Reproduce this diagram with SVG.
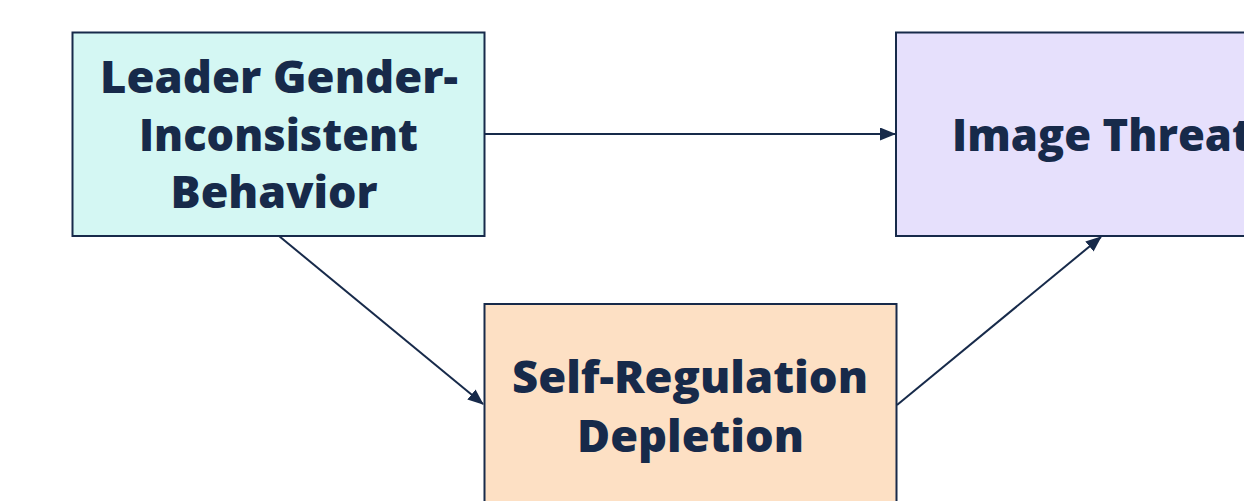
<svg xmlns="http://www.w3.org/2000/svg" width="1244" height="501" viewBox="0 0 1244 501">
<defs>
<marker id="ah" markerWidth="16" markerHeight="13" refX="15" refY="6.5" orient="auto" markerUnits="userSpaceOnUse">
<path d="M0,0 L16,6.5 L0,13 Z" fill="#172a4a"/>
</marker>
</defs>
<style>
.box{stroke:#172a4a;stroke-width:2}
.lbl{font-family:"Open Sans","Noto Sans",sans-serif;font-weight:800;font-size:45px;fill:#172a4a;text-anchor:middle}
.edge{stroke:#172a4a;stroke-width:2;fill:none;marker-end:url(#ah)}
</style>
<rect width="1244" height="501" fill="#ffffff"/>
<g id="connectors">
<line class="edge" x1="485" y1="134" x2="895" y2="134"/>
<line class="edge" x1="279" y1="236" x2="483" y2="404"/>
<line class="edge" x1="897" y1="405" x2="1101" y2="237"/>
</g>
<g id="node-leader">
<rect class="box" x="72.5" y="32.5" width="412" height="203.5" fill="#d4f7f3"/>
<text class="lbl" x="279" y="93" textLength="358" lengthAdjust="spacingAndGlyphs">Leader Gender-</text>
<text class="lbl" x="278.5" y="150.5" textLength="279" lengthAdjust="spacingAndGlyphs">Inconsistent</text>
<text class="lbl" x="274" y="208" textLength="207" lengthAdjust="spacingAndGlyphs">Behavior</text>
</g>
<g id="node-image">
<rect class="box" x="896" y="32.5" width="412" height="203.5" fill="#e6e0fc"/>
<text class="lbl" x="1102" y="151" textLength="300" lengthAdjust="spacingAndGlyphs">Image Threat</text>
</g>
<g id="node-self">
<rect class="box" x="484.5" y="304" width="412" height="203.5" fill="#fde0c4"/>
<text class="lbl" x="690" y="393" textLength="356" lengthAdjust="spacingAndGlyphs">Self-Regulation</text>
<text class="lbl" x="690.5" y="452" textLength="227" lengthAdjust="spacingAndGlyphs">Depletion</text>
</g>
</svg>
